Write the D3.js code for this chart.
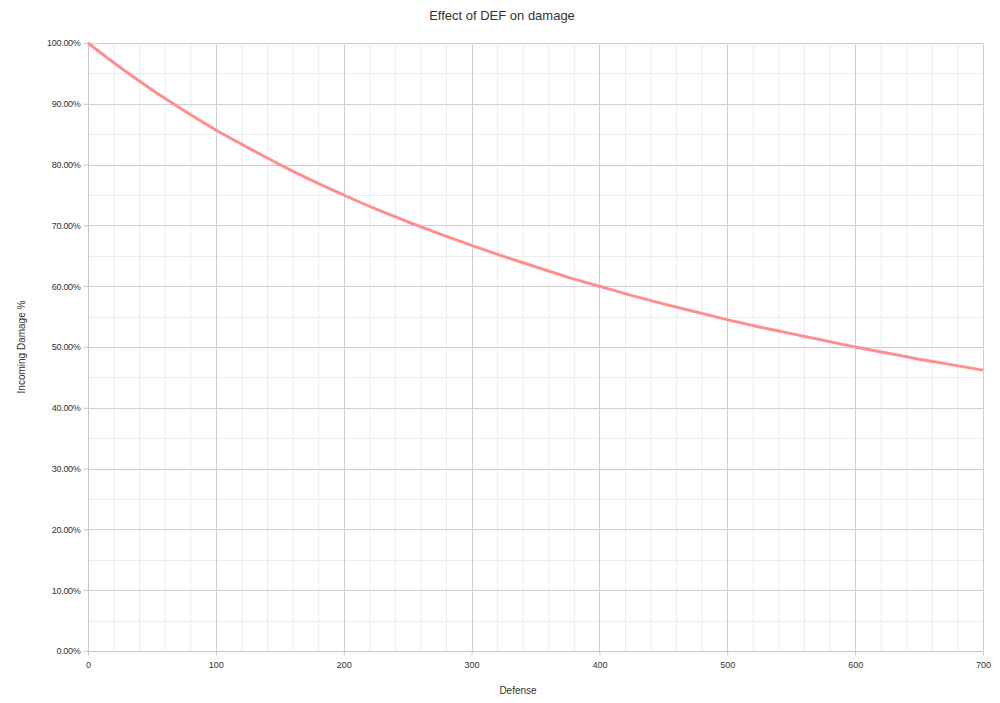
<!DOCTYPE html>
<html>
<head>
<meta charset="utf-8">
<script src="https://cdn.jsdelivr.net/npm/d3@7"></script>
<style>
body { margin: 0; background: #fff; }
text { font-family: "Liberation Sans", Arial, sans-serif; fill: #333; }
</style>
</head>
<body>
<div id="chart"></div>
<script>
var width = 1000
var height = 703
var margin = {top: 43, right: 17, bottom: 52, left: 88}

// values
var defense = [0, 25, 50, 75, 100, 125, 150, 175, 200, 225, 250, 275, 300, 325, 350,
               375, 400, 425, 450, 475, 500, 525, 550, 575, 600, 625, 650, 675, 700]
var damage = [1.000, 0.960, 0.923, 0.889, 0.857, 0.828, 0.800, 0.774, 0.750, 0.727, 0.706,
              0.686, 0.667, 0.649, 0.632, 0.615, 0.600, 0.585, 0.571, 0.558, 0.545, 0.533,
              0.522, 0.511, 0.500, 0.490, 0.480, 0.471, 0.462]
var xTicks = [0, 100, 200, 300, 400, 500, 600, 700]
var yTicks = [0, 0.1, 0.2, 0.3, 0.4, 0.5, 0.6, 0.7, 0.8, 0.9, 1.0]

var cx = d3.scaleLinear().domain([0, 700]).range([margin.left, width - margin.right])
var cy = d3.scaleLinear().domain([0, 1]).range([height - margin.bottom, margin.top])

var svg = d3.select("#chart").append("svg")
    .attr("width", width)
    .attr("height", height)

// minor grid
svg.append("g")
    .selectAll("line")
    .data(d3.range(0, 701, 20).filter(function(d){ return d % 100 != 0; }))
    .enter().append("line")
    .attr("x1", function(d){ return cx(d) + 0.5; })
    .attr("x2", function(d){ return cx(d) + 0.5; })
    .attr("y1", cy(0)).attr("y2", cy(1))
    .attr("stroke", "#ececec")
svg.append("g")
    .selectAll("line")
    .data(d3.range(0.05, 1, 0.1))
    .enter().append("line")
    .attr("x1", cx(0)).attr("x2", cx(700))
    .attr("y1", function(d){ return Math.round(cy(d)) + 0.5; })
    .attr("y2", function(d){ return Math.round(cy(d)) + 0.5; })
    .attr("stroke", "#ececec")

// major grid
svg.append("g")
    .selectAll("line")
    .data(xTicks)
    .enter().append("line")
    .attr("x1", function(d){ return Math.round(cx(d)) + 0.5; })
    .attr("x2", function(d){ return Math.round(cx(d)) + 0.5; })
    .attr("y1", cy(0)).attr("y2", cy(1))
    .attr("stroke", "#cfcfcf")
svg.append("g")
    .selectAll("line")
    .data(yTicks)
    .enter().append("line")
    .attr("x1", cx(0)).attr("x2", cx(700))
    .attr("y1", function(d){ return Math.round(cy(d)) + 0.5; })
    .attr("y2", function(d){ return Math.round(cy(d)) + 0.5; })
    .attr("stroke", "#cfcfcf")

// axes
var xAxis = svg.append("g")
    .attr("transform", "translate(0," + (Math.round(cy(0)) + 0.5) + ")")
    .call(d3.axisBottom(cx).tickValues(xTicks).tickSize(4).tickPadding(6).tickFormat(d3.format("d")))
var yAxis = svg.append("g")
    .attr("transform", "translate(" + (Math.round(cx(0)) + 0.5) + ",0)")
    .call(d3.axisLeft(cy).tickValues(yTicks).tickSize(5).tickPadding(3).tickFormat(d3.format(".2%")))
xAxis.selectAll("path, line").attr("stroke", "#c8c8c8")
yAxis.selectAll("path, line").attr("stroke", "#c8c8c8")
xAxis.selectAll("text").style("font-size", "9px").attr("fill", "#333")
yAxis.selectAll("text").style("font-size", "9px").attr("fill", "#333").attr("letter-spacing", "-0.3px")
xAxis.select(".domain").remove()
yAxis.select(".domain").remove()
svg.append("line")
    .attr("x1", cx(0)).attr("x2", cx(700))
    .attr("y1", Math.round(cy(0)) + 0.5).attr("y2", Math.round(cy(0)) + 0.5)
    .attr("stroke", "#c8c8c8")
svg.append("line")
    .attr("x1", Math.round(cx(0)) + 0.5).attr("x2", Math.round(cx(0)) + 0.5)
    .attr("y1", cy(0)).attr("y2", cy(1))
    .attr("stroke", "#c8c8c8")

// curve
var line = d3.line()
    .x(function(d, i){ return cx(defense[i]); })
    .y(function(d){ return cy(d); })
    .curve(d3.curveMonotoneX)
svg.append("path")
    .datum(damage)
    .attr("d", line)
    .attr("fill", "none")
    .attr("stroke", "#ff8f8f")
    .attr("stroke-width", 3)

// labels
svg.append("text")
    .attr("x", 502).attr("y", 20)
    .attr("text-anchor", "middle")
    .style("font-size", "13px")
    .text("Effect of DEF on damage")
svg.append("text")
    .attr("x", 518).attr("y", 694)
    .attr("text-anchor", "middle")
    .style("font-size", "10px")
    .text("Defense")
svg.append("text")
    .attr("transform", "translate(25,347) rotate(-90)")
    .attr("text-anchor", "middle")
    .style("font-size", "10px")
    .text("Incoming Damage %")
</script>
</body>
</html>
